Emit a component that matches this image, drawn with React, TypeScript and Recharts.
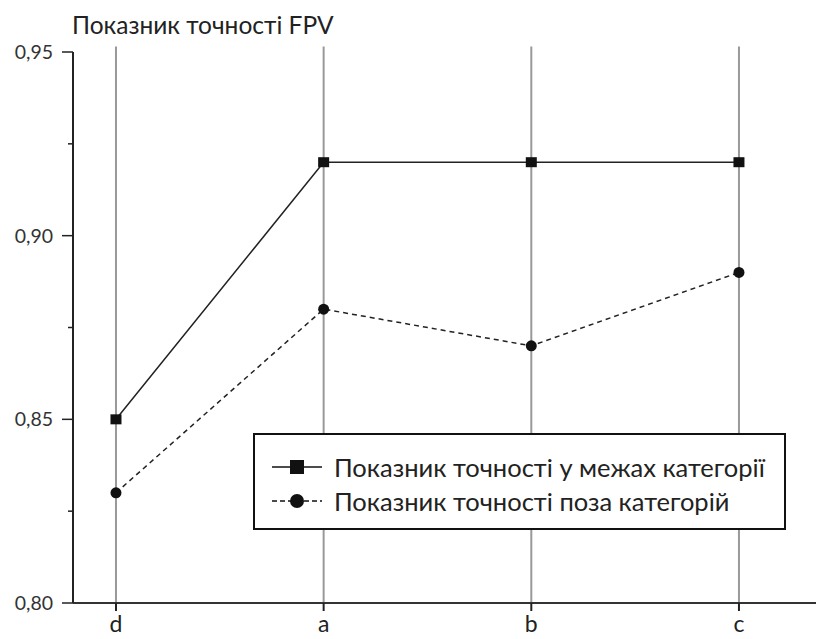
import React from "react";
import { LineChart, Line, XAxis, YAxis, ReferenceLine } from "recharts";

const categories = ["d", "a", "b", "c"];
const withinCategory = [0.85, 0.92, 0.92, 0.92];
const outsideCategory = [0.83, 0.88, 0.87, 0.89];
const yTicks = [0.8, 0.825, 0.85, 0.875, 0.9, 0.925, 0.95];
const majorTicks = [0.8, 0.85, 0.9, 0.95];

const seriesNames = {
  within: "Показник точності у межах категорії",
  outside: "Показник точності поза категорій",
};

const data = categories.map((c, i) => ({
  i,
  name: c,
  within: withinCategory[i],
  outside: outsideCategory[i],
}));

const FONT = "Lato, 'Open Sans', sans-serif";
const AXIS_X = 73;
const AXIS_Y = 603;

function YTick(props: any) {
  const { y, payload } = props;
  const v = payload.value as number;
  const major = majorTicks.some((m) => Math.abs(m - v) < 1e-6);
  return (
    <g>
      <line
        x1={AXIS_X - (major ? 11 : 5)}
        x2={AXIS_X}
        y1={y}
        y2={y}
        stroke="#222"
        strokeWidth={1.5}
      />
      {major && (
        <text
          x={53}
          y={y}
          dy={7}
          textAnchor="end"
          fontSize={19.5}
          fill="#333"
          fontFamily={FONT}
        >
          {v.toFixed(2).replace(".", ",")}
        </text>
      )}
    </g>
  );
}

function XTick(props: any) {
  const { x, payload } = props;
  return (
    <g>
      <line
        x1={x}
        x2={x}
        y1={AXIS_Y}
        y2={AXIS_Y + 8}
        stroke="#222"
        strokeWidth={2}
      />
      <text
        x={x}
        y={AXIS_Y + 29}
        textAnchor="middle"
        fontSize={23}
        fill="#222"
        fontFamily={FONT}
      >
        {categories[payload.value]}
      </text>
    </g>
  );
}

function Square(props: any) {
  const { cx, cy } = props;
  return <rect x={cx - 5.5} y={cy - 5} width={11} height={10} fill="#111" />;
}

function Dot(props: any) {
  const { cx, cy } = props;
  return <circle cx={cx} cy={cy} r={5.5} fill="#111" />;
}

function LegendBox() {
  const row = (dashed: boolean, label: string) => (
    <div style={{ display: "flex", alignItems: "center", height: 34 }}>
      <svg width={58} height={20} style={{ marginRight: 6 }}>
        <line
          x1={2}
          x2={52}
          y1={10}
          y2={10}
          stroke="#111"
          strokeWidth={1.5}
          strokeDasharray={dashed ? "5 3" : undefined}
        />
        {dashed ? (
          <circle cx={27} cy={10} r={7} fill="#111" />
        ) : (
          <rect x={20} y={3} width={14} height={14} fill="#111" />
        )}
      </svg>
      <span>{label}</span>
    </div>
  );
  return (
    <div
      style={{
        position: "absolute",
        left: 253,
        top: 433,
        width: 533,
        height: 97,
        border: "2px solid #111",
        background: "#fff",
        boxSizing: "border-box",
        padding: "15px 0 0 15px",
        fontFamily: FONT,
        fontSize: 25.5,
        color: "#222",
        lineHeight: "34px",
        whiteSpace: "nowrap",
      }}
    >
      {row(false, seriesNames.within)}
      {row(true, seriesNames.outside)}
    </div>
  );
}

export default function App() {
  return (
    <div
      style={{
        position: "absolute",
        left: 0,
        top: 0,
        width: 816,
        height: 639,
        background: "#fff",
      }}
    >
      <LineChart
        width={816}
        height={639}
        data={data}
        margin={{ top: 52, right: 0, bottom: 0, left: 0 }}
      >
        <XAxis
          type="number"
          dataKey="i"
          domain={[-0.207, 3.371]}
          ticks={[0, 1, 2, 3]}
          allowDataOverflow
          height={36}
          stroke="#333"
          strokeWidth={2}
          tickLine={false}
          tick={<XTick />}
        />
        <YAxis
          type="number"
          domain={[0.8, 0.95]}
          ticks={yTicks}
          interval={0}
          width={AXIS_X}
          stroke="#222"
          strokeWidth={2}
          tickLine={false}
          tick={<YTick />}
        />
        <Line
          dataKey="within"
          stroke="#222"
          strokeWidth={1.5}
          dot={<Square />}
          activeDot={false}
          isAnimationActive={false}
        />
        <Line
          dataKey="outside"
          stroke="#222"
          strokeWidth={1.5}
          strokeDasharray="5 4"
          dot={<Dot />}
          activeDot={false}
          isAnimationActive={false}
        />
        {categories.map((c, i) => (
          <ReferenceLine
            key={c}
            segment={[
              { x: i, y: 0.8 },
              { x: i, y: 0.9515 },
            ]}
            stroke="#999"
            strokeWidth={2}
            ifOverflow="visible"
          />
        ))}
      </LineChart>
      <div
        style={{
          position: "absolute",
          left: 72,
          top: 10,
          fontFamily: FONT,
          fontSize: 24.5,
          color: "#222",
          whiteSpace: "nowrap",
        }}
      >
        Показник точності FPV
      </div>
      <LegendBox />
    </div>
  );
}
